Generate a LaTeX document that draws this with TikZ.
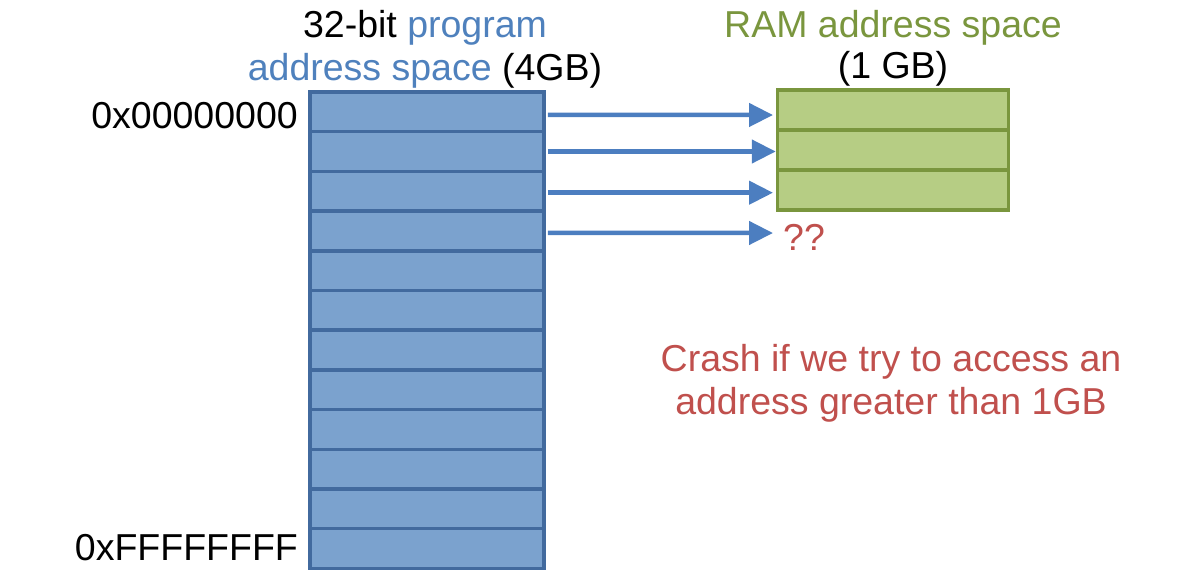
\documentclass[tikz,border=0pt]{standalone}
\usepackage{fontspec}
\setmainfont{Liberation Sans}
\usepackage{tikz}
\usetikzlibrary{arrows.meta,positioning}
\definecolor{foreground}{RGB}{0,0,0}
\definecolor{progfill}{RGB}{123,162,206}
\definecolor{progline}{RGB}{66,106,158}
\definecolor{progtext}{RGB}{79,129,189}
\definecolor{arrowblue}{RGB}{76,126,192}
\definecolor{ramfill}{RGB}{182,205,132}
\definecolor{ramline}{RGB}{122,150,62}
\definecolor{crashred}{RGB}{192,80,77}
\tikzstyle{cell}=[rectangle,draw=progline,fill=progfill,line width=3.5pt,minimum width=234pt,minimum height=39.7pt,inner sep=0pt]
\tikzstyle{ramcell}=[rectangle,draw=ramline,fill=ramfill,line width=3.5pt,minimum width=231pt,minimum height=40pt,inner sep=0pt]
\tikzstyle{label}=[inner sep=0pt,font=\fontsize{37.5}{43}\selectfont]
\tikzstyle{dedge} = [draw,arrowblue,line width=4.5pt,-{Triangle[length=24pt,width=23pt]}]

\begin{document}
\begin{tikzpicture}[x=1pt,y=-1pt]
      \useasboundingbox (0,0) rectangle (1196,582);

      \node[label,anchor=base] (t1) at (425,37) {32-bit \textcolor{progtext}{program}};
      \node[label,anchor=base] (t2) at (425,80) {\textcolor{progtext}{address space} (4GB)};
      \node[label,anchor=base,ramline] (t3) at (893,37) {RAM address space};
      \node[label,anchor=base] (t4) at (893,78) {(1 GB)};

      \node[cell] (c0) at (427,111.8) {};
      \node[cell] (c1) at (427,151.5) {};
      \node[cell] (c2) at (427,191.2) {};
      \node[cell] (c3) at (427,230.9) {};
      \node[cell] (c4) at (427,270.6) {};
      \node[cell] (c5) at (427,310.3) {};
      \node[cell] (c6) at (427,350.0) {};
      \node[cell] (c7) at (427,389.7) {};
      \node[cell] (c8) at (427,429.4) {};
      \node[cell] (c9) at (427,469.1) {};
      \node[cell] (c10) at (427,508.8) {};
      \node[cell] (c11) at (427,548.5) {};

      \node[ramcell] (r0) at (893,110) {};
      \node[ramcell] (r1) at (893,150) {};
      \node[ramcell] (r2) at (893,190) {};

      \node[label,anchor=base east] (lo) at (298,128) {0x00000000};
      \node[label,anchor=base east] (hi) at (298,560) {0xFFFFFFFF};

      \node[label,anchor=base west,crashred] (qq) at (783,250) {??};
      % base of a two-line node is its last line
      \node[label,crashred,align=center,anchor=base] (crash) at (891,414) {Crash if we try to access an\\address greater than 1GB};

      \coordinate (q) at (773,233);

      \path[dedge] (c0.east) ++(2,3) -- (773,115);
      \path[dedge] (c1.east) ++(2,0) -- (c1 -| r1.west);
      \path[dedge] (c2.east) ++(2,1.5) -- (773,192.7);
      \path[dedge] (c3.east) ++(2,2) -- (q);

    \end{tikzpicture}
\end{document}
